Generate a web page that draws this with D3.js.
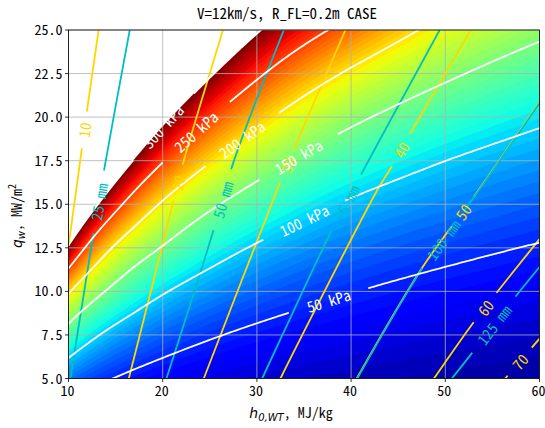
<!DOCTYPE html>
<html>
<head>
<meta charset="utf-8">
<script src="https://cdn.jsdelivr.net/npm/d3@7"></script>
<style>
  body { margin: 0; background: #fff; }
  svg text { font-family: "Noto Sans Mono CJK JP", "Noto Sans CJK JP", "DejaVu Sans Mono", monospace; }
</style>
</head>
<body>
<svg id="chart" width="545" height="428"></svg>
<script>
// ---- wind-tunnel test envelope data ----
// grid nodes: stagnation enthalpy h0 (MJ/kg) and wall heat flux q_w (MW/m^2)
const gridH0 = [10, 15, 20, 30, 40, 50, 60];
const gridQ = [5, 7.5, 10, 12.5, 15, 17.5, 20, 22.5, 25];
// stagnation pressure (kPa) at each node, one row per gridQ value
const pressureRows = [
  [73.1, 49.0, 36.4, 23.4, 17.1, 13.1, 10.4],
  [133.1, 88.7, 66.8, 43.8, 32.4, 25.3, 20.5],
  [204.4, 138.9, 103.1, 68.4, 50.9, 40.4, 33.2],
  [294.6, 194.8, 147.8, 96.5, 72.2, 58.0, 48.1],
  [394, 262.3, 195.6, 130.3, 96.2, 78.0, 65.2],
  [505, 337, 252.4, 168.7, 125.1, 100.2, 84.2],
  [625, 418, 313, 211.3, 158.0, 126.9, 105.7],
  [756, 506, 378, 256.6, 194.6, 156.4, 130.4],
  [894, 600, 447, 304, 236.1, 188.5, 157.4]
];
const pressureMax = 300;            // top of the filled range
const pressureStep = 5;             // filled band width
const pressureLevels = [50, 100, 150, 200, 250, 300];
const pressureLabelH0 = [37.6, 35.0, 34.4, 28.4, 23.5, 20.0];

// model nose radius contours (mm): [h0, q_w] points
const radiusLevels = [25, 50, 75, 100, 125];
const radiusLines = [
  [[10.2, 5.0], [12.6, 13.15], [13.75, 16.88], [16.5, 25.0]],
  [[20.4, 5.0], [25.25, 13.25], [27.48, 17.36], [32.86, 25.0]],
  [[30.56, 5.0], [33.57, 8.5], [37.8, 13.35], [41.1, 16.75], [49.4, 25.0]],
  [[40.65, 5.0], [47.7, 11.44], [52.85, 15.26], [60.0, 20.8]],
  [[50.7, 5.0], [52.85, 6.47], [57.2, 9.53], [60.0, 11.4]]
];
const radiusLabelQ = [15.14, 15.26, 15.09, 12.97, 8.09];

// second contour family (gold): [h0, q_w] points
const goldLevels = [10, 20, 30, 40, 50, 60, 70];
const goldLines = [
  [[10.0, 12.6], [11.35, 17.93], [11.9, 20.13], [13.2, 25.0]],
  [[16.4, 5.0], [19.05, 10.67], [21.0, 14.88], [22.07, 17.17], [26.4, 25.0]],
  [[24.36, 5.0], [32.15, 15.83], [33.9, 18.12], [39.4, 25.0]],
  [[32.5, 5.0], [33.6, 6.2], [42.8, 15.83], [44.2, 17.07], [46.2, 18.98], [52.7, 25.0]],
  [[40.6, 5.0], [47.65, 11.44], [52.8, 15.26], [60.0, 20.85]],
  [[48.8, 5.0], [52.7, 8.0], [55.15, 9.72], [60.0, 13.0]],
  [[56.36, 5.0], [60.0, 7.29]]
];
const goldLabelQ = [19.27, 16.23, 17.26, 18.12, 14.57, 9.07, 5.97];

const xTicks = [10, 20, 30, 40, 50, 60];
const yTicks = [5, 7.5, 10, 12.5, 15, 17.5, 20, 22.5, 25];
const titleText = "V=12km/s, R_FL=0.2m CASE";

// ---- layout ----
const W = 545, H = 428;
const svg = d3.select("#chart");
const x = d3.scaleLinear().domain([10, 60]).range([68.5, 539.5]);
const y = d3.scaleLinear().domain([5, 25]).range([378.5, 30]);
const [px0, px1] = x.range(), [py1, py0] = y.range();

// matplotlib "jet" colormap
function jet(v) {
  const seg = pts => {
    for (let i = 1; i < pts.length; i++) {
      if (v <= pts[i][0]) {
        const [a0, b0] = pts[i - 1], [a1, b1] = pts[i];
        return b0 + (b1 - b0) * (v - a0) / (a1 - a0);
      }
    }
    return pts[pts.length - 1][1];
  };
  const r = seg([[0, 0], [0.35, 0], [0.66, 1], [0.89, 1], [1, 0.5]]);
  const g = seg([[0, 0], [0.125, 0], [0.375, 1], [0.64, 1], [0.91, 0], [1, 0]]);
  const b = seg([[0, 0.5], [0.11, 1], [0.34, 1], [0.65, 0], [1, 0]]);
  return d3.rgb(r * 255, g * 255, b * 255).formatHex();
}

// cubic Hermite interpolation through tabulated points (linear beyond the ends)
function hermite(xs, ys, v) {
  const n = xs.length;
  const slope = i => i === 0 ? (ys[1] - ys[0]) / (xs[1] - xs[0])
    : i === n - 1 ? (ys[n - 1] - ys[n - 2]) / (xs[n - 1] - xs[n - 2])
    : (ys[i + 1] - ys[i - 1]) / (xs[i + 1] - xs[i - 1]);
  if (v <= xs[0]) return ys[0] + slope(0) * (v - xs[0]);
  if (v >= xs[n - 1]) return ys[n - 1] + slope(n - 1) * (v - xs[n - 1]);
  let i = d3.bisectRight(xs, v) - 1;
  const h = xs[i + 1] - xs[i], t = (v - xs[i]) / h;
  const t2 = t * t, t3 = t2 * t;
  return (2 * t3 - 3 * t2 + 1) * ys[i] + (t3 - 2 * t2 + t) * h * slope(i)
    + (-2 * t3 + 3 * t2) * ys[i + 1] + (t3 - t2) * h * slope(i + 1);
}
const lnH = gridH0.map(Math.log), lnQ = gridQ.map(Math.log);
const lnP = pressureRows.map(r => r.map(Math.log));
function pressureAt(h, q) {
  const lh = Math.log(h);
  const col = lnP.map(row => hermite(lnH, row, lh));
  return Math.exp(hermite(lnQ, col, Math.log(q)));
}
// q_w on a pressure contour at a given h0
function qOnLevel(level, h) {
  let lo = 1, hi = 80;
  for (let k = 0; k < 60; k++) {
    const mid = (lo + hi) / 2;
    if (pressureAt(h, mid) < level) lo = mid; else hi = mid;
  }
  return (lo + hi) / 2;
}

// ---- sampled pressure field (extends past the axes, clipped later) ----
const cell = 2, gx0 = 62, gy0 = 24;
const nx = Math.ceil((546 - gx0) / cell), ny = Math.ceil((386 - gy0) / cell);
const values = new Float64Array(nx * ny);
for (let j = 0; j < ny; j++) {
  for (let i = 0; i < nx; i++) {
    values[j * nx + i] = pressureAt(x.invert(gx0 + (i + 0.5) * cell), y.invert(gy0 + (j + 0.5) * cell));
  }
}
const gridPath = d3.geoPath(d3.geoTransform({
  point(a, b) { this.stream.point(gx0 + a * cell, gy0 + b * cell); }
}));

const defs = svg.append("defs");
defs.append("clipPath").attr("id", "plotClip")
  .append("rect").attr("x", px0).attr("y", py0).attr("width", px1 - px0).attr("height", py1 - py0);

const fillLayer = svg.append("g").attr("clip-path", "url(#plotClip)");
const gridLayer = svg.append("g");
const lineLayer = svg.append("g").attr("clip-path", "url(#plotClip)");
const labelLayer = svg.append("g");
const axisLayer = svg.append("g");

// filled pressure bands
const bandThresholds = d3.range(0, pressureMax, pressureStep);
const nBands = bandThresholds.length;
const bandContours = d3.contours().size([nx, ny]).smooth(true)
  .thresholds(bandThresholds.concat([pressureMax]))(values);
fillLayer.selectAll("path").data(bandContours).join("path")
  .attr("d", gridPath)
  .attr("fill", (d, k) => k < nBands ? jet(k / (nBands - 1)) : "#ffffff")
  .attr("stroke", (d, k) => k < nBands ? jet(k / (nBands - 1)) : "#ffffff")
  .attr("stroke-width", 0.3);

// grid
gridLayer.selectAll("line.gx").data(xTicks).join("line").attr("class", "gx")
  .attr("x1", d => x(d)).attr("x2", d => x(d)).attr("y1", py0).attr("y2", py1)
  .attr("stroke", "#b0b0b0").attr("stroke-width", 0.8);
gridLayer.selectAll("line.gy").data(yTicks).join("line").attr("class", "gy")
  .attr("y1", d => y(d)).attr("y2", d => y(d)).attr("x1", px0).attr("x2", px1)
  .attr("stroke", "#b0b0b0").attr("stroke-width", 0.8);

// ---- contour labels ----
function angleOf(p1, p2) {
  let a = Math.atan2(p2[1] - p1[1], p2[0] - p1[0]) * 180 / Math.PI;
  if (a > 90) a -= 180;
  if (a <= -90) a += 180;
  return a;
}
function polyPointAtQ(pts, q) {
  let i = 0;
  while (i < pts.length - 2 && pts[i + 1][1] < q) i++;
  const [h0a, qa] = pts[i], [h0b, qb] = pts[i + 1];
  const t = (q - qa) / (qb - qa);
  const h = h0a + t * (h0b - h0a);
  return {
    x: x(h), y: y(q),
    a: angleOf([x(h0a), y(qa)], [x(h0b), y(qb)])
  };
}
const pressureLabels = pressureLevels.map((lev, k) => {
  const h = pressureLabelH0[k];
  const q = qOnLevel(lev, h);
  const pa = [x(h - 0.5), y(qOnLevel(lev, h - 0.5))];
  const pb = [x(h + 0.5), y(qOnLevel(lev, h + 0.5))];
  return { x: x(h), y: y(q), a: angleOf(pa, pb), text: `${lev} kPa`, color: "#ffffff", pad: 19 };
});
const radiusLabels = radiusLevels.map((lev, k) =>
  Object.assign(polyPointAtQ(radiusLines[k], radiusLabelQ[k]), { text: `${lev} mm`, color: "#00bfbf", pad: 13 }));
const goldLabels = goldLevels.map((lev, k) =>
  Object.assign(polyPointAtQ(goldLines[k], goldLabelQ[k]), { text: `${lev}`, color: "#ffd700", pad: 11 }));

function drawLabels(list) {
  labelLayer.append("g").selectAll("text").data(list).join("text")
    .attr("transform", d => `translate(${d.x},${d.y}) rotate(${d.a})`)
    .attr("text-anchor", "middle").attr("dominant-baseline", "central")
    .attr("font-size", 15).attr("fill", d => d.color)
    .text(d => d.text)
    .each(function (d) { d.w = this.getComputedTextLength(); });
}
drawLabels(goldLabels);
drawLabels(radiusLabels);
drawLabels(pressureLabels);

function makeMask(id, list) {
  const m = defs.append("mask").attr("id", id).attr("maskUnits", "userSpaceOnUse")
    .attr("x", 0).attr("y", 0).attr("width", W).attr("height", H);
  m.append("rect").attr("width", W).attr("height", H).attr("fill", "#fff");
  list.forEach(d => m.append("rect")
    .attr("x", -d.w / 2 - d.pad).attr("y", -6).attr("width", d.w + 2 * d.pad).attr("height", 12)
    .attr("fill", "#000").attr("transform", `translate(${d.x},${d.y}) rotate(${d.a})`));
}
makeMask("maskPressure", pressureLabels);
makeMask("maskRadius", radiusLabels);
makeMask("maskGold", goldLabels);

// ---- contour lines ----
const lineGen = d3.line().x(d => x(d[0])).y(d => y(d[1])).curve(d3.curveCatmullRom.alpha(0.5));
lineLayer.append("g").attr("mask", "url(#maskGold)")
  .selectAll("path").data(goldLines).join("path")
  .attr("d", lineGen).attr("fill", "none").attr("stroke", "#ffd700").attr("stroke-width", 1.8);
lineLayer.append("g").attr("mask", "url(#maskRadius)")
  .selectAll("path").data(radiusLines).join("path")
  .attr("d", lineGen).attr("fill", "none").attr("stroke", "#00bfbf").attr("stroke-width", 1.8);
const pressureContours = d3.contours().size([nx, ny]).smooth(true).thresholds(pressureLevels)(values);
lineLayer.append("g").attr("mask", "url(#maskPressure)")
  .selectAll("path").data(pressureContours).join("path")
  .attr("d", gridPath).attr("fill", "none").attr("stroke", "#ffffff").attr("stroke-width", 1.8);

// ---- axes ----
axisLayer.append("rect").attr("x", px0).attr("y", py0).attr("width", px1 - px0).attr("height", py1 - py0)
  .attr("fill", "none").attr("stroke", "#000").attr("stroke-width", 0.8);
axisLayer.selectAll("line.tx").data(xTicks).join("line").attr("class", "tx")
  .attr("x1", d => x(d)).attr("x2", d => x(d)).attr("y1", py1).attr("y2", py1 + 3.5)
  .attr("stroke", "#000").attr("stroke-width", 0.8);
axisLayer.selectAll("text.tx").data(xTicks).join("text").attr("class", "tx")
  .attr("x", d => x(d) - 1).attr("y", py1 + 17).attr("text-anchor", "middle")
  .attr("font-size", 14).attr("fill", "#000").text(d => d);
axisLayer.selectAll("line.ty").data(yTicks).join("line").attr("class", "ty")
  .attr("x1", px0 - 3.5).attr("x2", px0).attr("y1", d => y(d)).attr("y2", d => y(d))
  .attr("stroke", "#000").attr("stroke-width", 0.8);
axisLayer.selectAll("text.ty").data(yTicks).join("text").attr("class", "ty")
  .attr("x", px0 - 6).attr("y", d => y(d)).attr("dy", "0.36em").attr("text-anchor", "end")
  .attr("font-size", 14).attr("fill", "#000").text(d => d3.format(".1f")(d));

// title
axisLayer.append("text").attr("x", 287).attr("y", 19).attr("text-anchor", "middle")
  .attr("font-size", 15).attr("fill", "#000").text(titleText);

// x-axis label: h_{0,WT}, MJ/kg
const xl = axisLayer.append("text").attr("x", 291).attr("y", 418).attr("text-anchor", "middle")
  .attr("font-size", 14).attr("fill", "#000");
xl.append("tspan").attr("font-family", "DejaVu Sans").attr("font-style", "italic").text("h");
xl.append("tspan").attr("font-family", "DejaVu Sans").attr("font-style", "italic")
  .attr("font-size", 10).attr("dy", 3).text("0,WT");
xl.append("tspan").attr("dy", -3).text(", MJ/kg");

// y-axis label: q_w, MW/m^2
const yl = axisLayer.append("text").attr("transform", "translate(22,216) rotate(-90)")
  .attr("text-anchor", "middle").attr("font-size", 14).attr("fill", "#000");
yl.append("tspan").attr("font-family", "DejaVu Sans").attr("font-style", "italic").text("q");
yl.append("tspan").attr("font-family", "DejaVu Sans").attr("font-style", "italic")
  .attr("font-size", 10).attr("dy", 3).text("w");
yl.append("tspan").attr("dy", -3).text(", MW/m");
yl.append("tspan").attr("font-size", 10).attr("dy", -6).text("2");
</script>
</body>
</html>
